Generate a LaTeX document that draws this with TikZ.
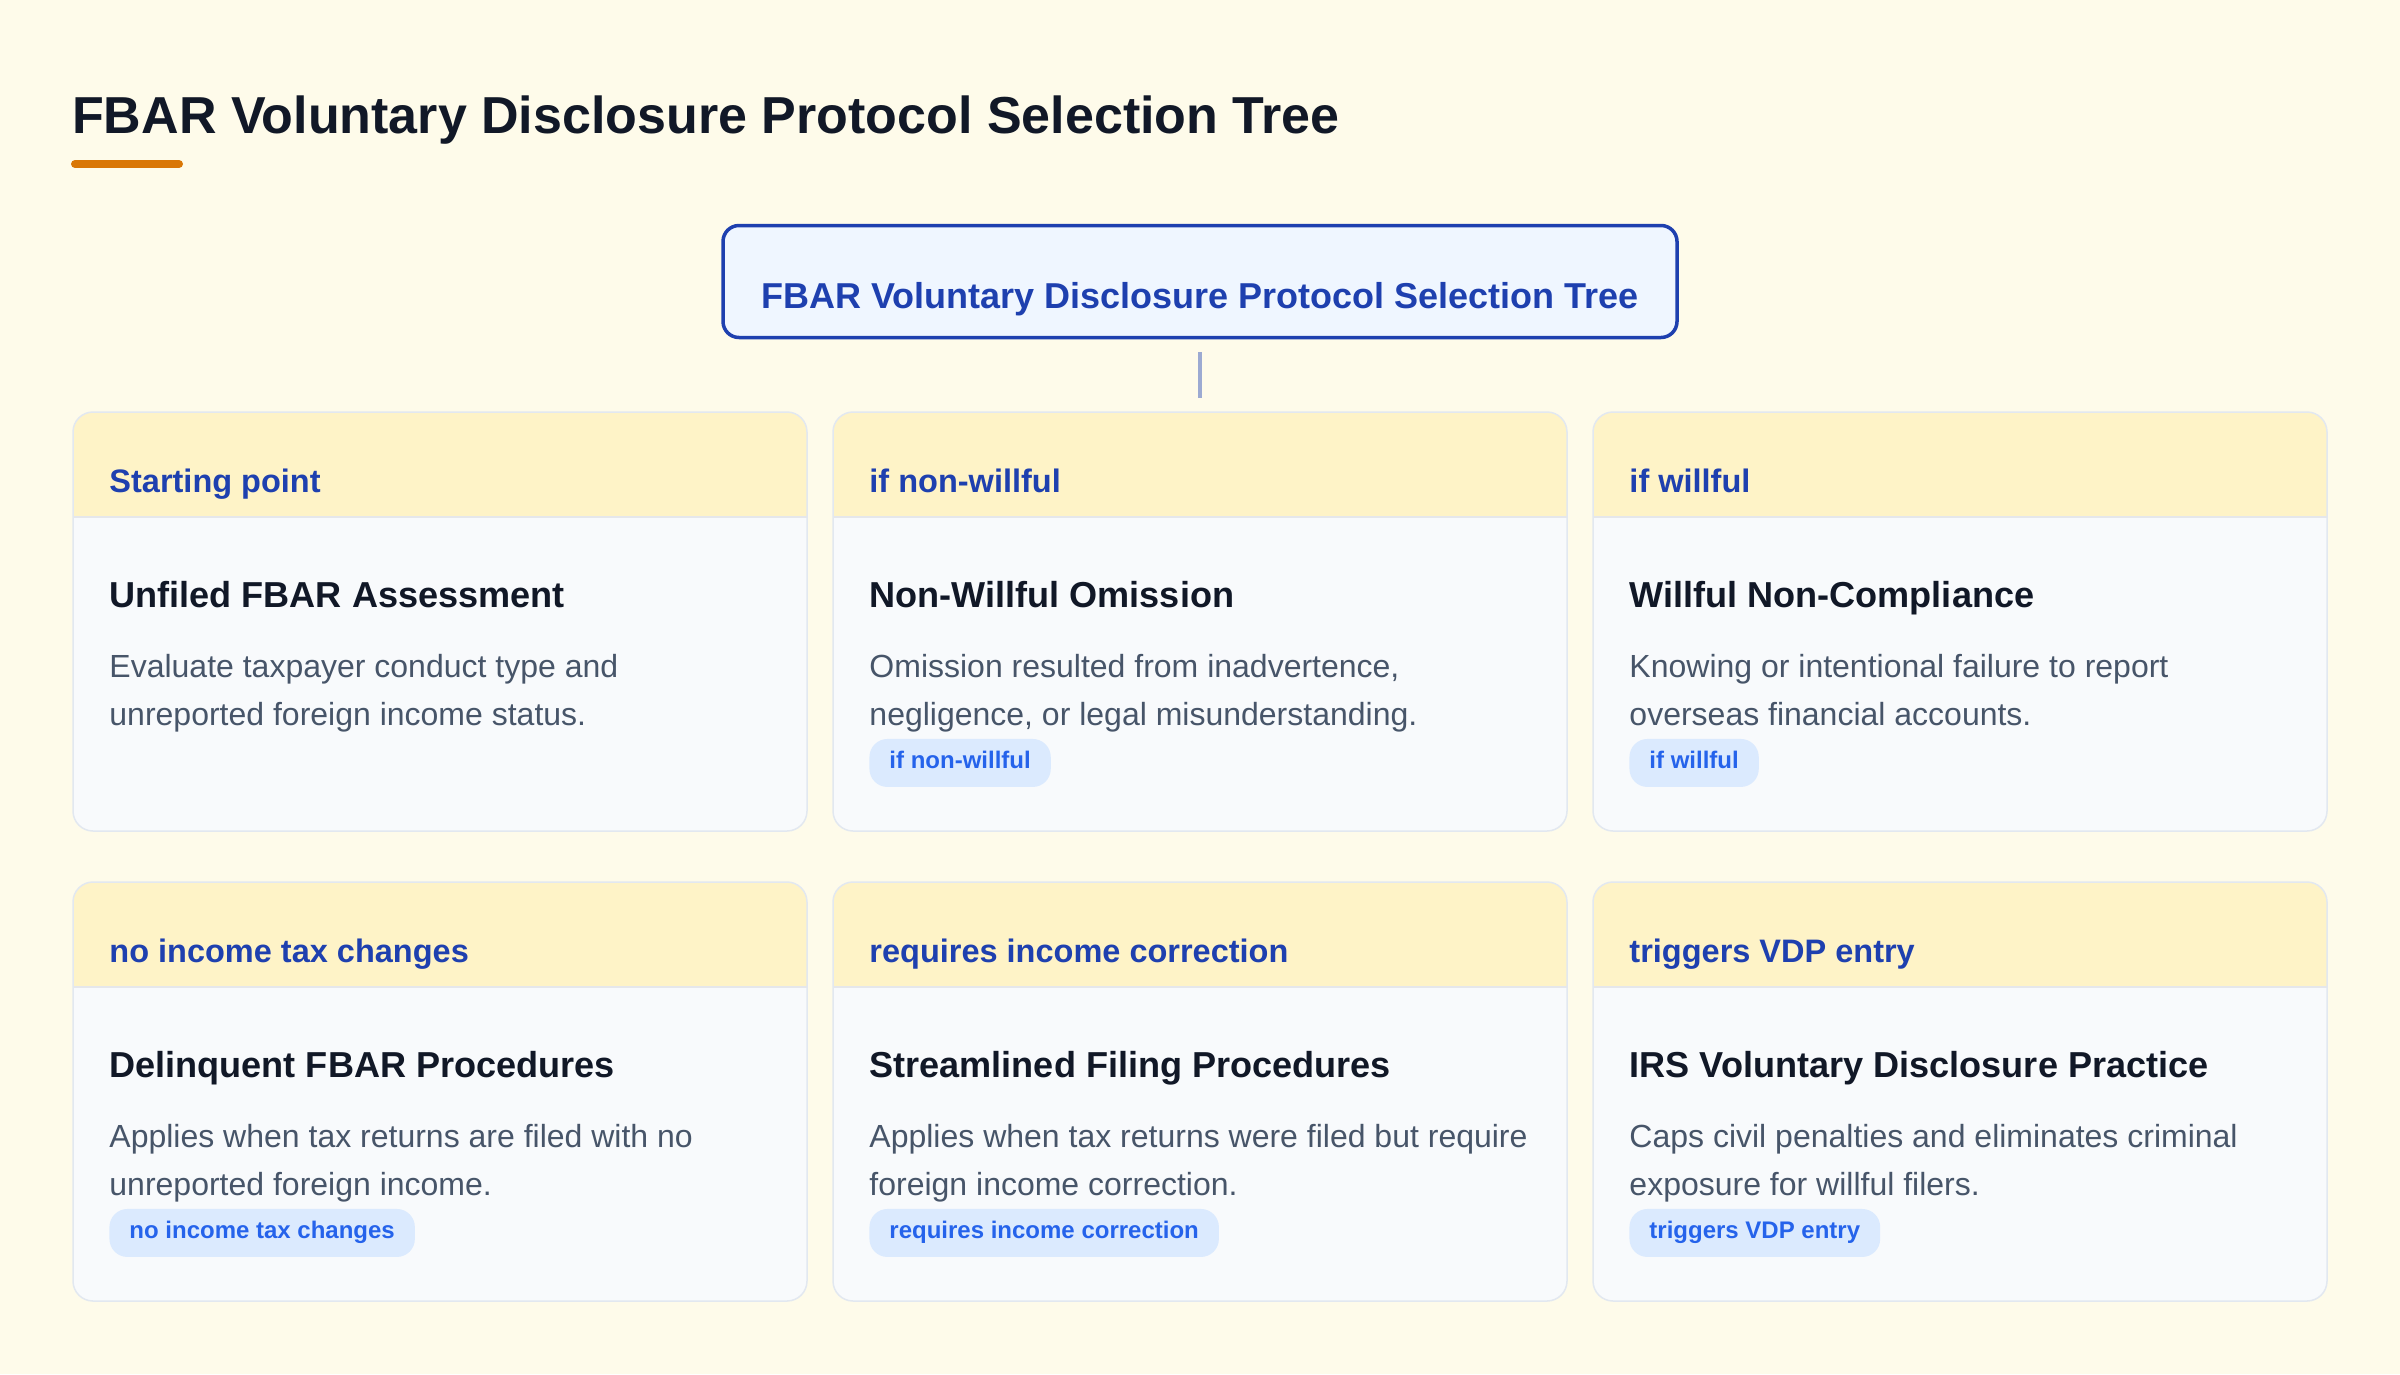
\documentclass[tikz,border=0pt]{standalone}
\usepackage{fontspec}
\setmainfont{Liberation Sans}
\usepackage{xcolor}
\usepackage{tikz}
\usetikzlibrary{positioning}
\definecolor{Paper}{HTML}{FEFBEA}
\definecolor{Ink}{HTML}{111827}
\definecolor{Amber}{HTML}{D97706}
\definecolor{Royal}{HTML}{1E40AF}
\definecolor{RootFill}{HTML}{EFF6FF}
\definecolor{LinkGray}{HTML}{9CAAD2}
\definecolor{CardLine}{HTML}{E2E8F0}
\definecolor{CardFill}{HTML}{F8FAFC}
\definecolor{HeadFill}{HTML}{FEF3C7}
\definecolor{HeadLine}{HTML}{E5E7EB}
\definecolor{Slate}{HTML}{475569}
\definecolor{PillFill}{HTML}{DBEAFE}
\definecolor{PillText}{HTML}{2563EB}
\tikzset{
  pagetitle/.style={text=Ink, font=\fontsize{52}{60}\selectfont\bfseries, inner sep=0pt, anchor=base west},
  rootbox/.style={draw=Royal, fill=RootFill, line width=3.5pt, rounded corners=16pt, minimum width=954pt, minimum height=112pt, text height=62pt, text depth=8pt, inner sep=0pt, text=Royal, font=\fontsize{36}{40}\selectfont\bfseries},
  link/.style={draw=LinkGray, line width=4pt},
  card/.style={draw=CardLine, fill=CardFill, line width=1.5pt, rounded corners=20pt, minimum width=734pt, minimum height=419pt, inner sep=0pt,
    path picture={
      \fill[HeadFill, sharp corners] (path picture bounding box.north west) rectangle ([yshift=-105pt]path picture bounding box.north east);
      \draw[HeadLine, line width=2pt] ([yshift=-105pt]path picture bounding box.north west) -- ([yshift=-105pt]path picture bounding box.north east);
    }},
  headtext/.style={text=Royal, font=\fontsize{32.5}{38}\selectfont\bfseries, inner sep=0pt, anchor=base west},
  cardtitle/.style={text=Ink, font=\fontsize{36.1}{42}\selectfont\bfseries, inner sep=0pt, anchor=base west},
  desc/.style={text=Slate, font=\fontsize{32}{48}\selectfont, align=left, inner sep=0pt, anchor=base west},
  pill/.style={fill=PillFill, text=PillText, rounded corners=18pt, inner xsep=20pt, inner ysep=0pt, minimum height=48pt, text height=17pt, text depth=5pt, font=\fontsize{24}{28}\selectfont\bfseries, anchor=north west},
}
\begin{document}
\begin{tikzpicture}[x=1pt, y=-1pt]
  % Page
  \fill[Paper] (0,0) rectangle (2400,1374);
  \useasboundingbox (0,0) rectangle (2400,1374);

  % Title
  \node[pagetitle] (title) at (72,133) {FBAR Voluntary Disclosure Protocol Selection Tree};
  \draw[Amber, line width=8pt, line cap=round] (75,164) -- (179,164);

  % Root
  \node[rootbox] (root) at (1200,281.5) {FBAR Voluntary Disclosure Protocol Selection Tree};

  % Cards, first row
  \node[card] (start) at (440,621.5) {};
  \node[card] (nonwillful) at (1200,621.5) {};
  \node[card] (willful) at (1960,621.5) {};
  % Cards, second row
  \node[card] (delinquent) at (440,1091.5) {};
  \node[card] (streamlined) at (1200,1091.5) {};
  \node[card] (vdp) at (1960,1091.5) {};

  \draw[link] ([yshift=-13pt]root.south) -- ([yshift=13pt]nonwillful.north);

  % Starting point
  \node[headtext] (starthead) at ([xshift=37pt, yshift=-81pt]start.north west) {Starting point};
  \node[cardtitle] (starttitle) at ([xshift=37pt, yshift=-196.5pt]start.north west) {Unfiled FBAR Assessment};
  \node[desc] (startdesc) at ([xshift=37pt, yshift=-314.5pt]start.north west) {Evaluate taxpayer conduct type and\\unreported foreign income status.};

  % Non-willful
  \node[headtext] (nonwillfulhead) at ([xshift=37pt, yshift=-81pt]nonwillful.north west) {if non-willful};
  \node[cardtitle] (nonwillfultitle) at ([xshift=37pt, yshift=-196.5pt]nonwillful.north west) {Non-Willful Omission};
  \node[desc] (nonwillfuldesc) at ([xshift=37pt, yshift=-314.5pt]nonwillful.north west) {Omission resulted from inadvertence,\\negligence, or legal misunderstanding.};
  \node[pill] (nonwillfulpill) at ([xshift=37pt, yshift=-327.5pt]nonwillful.north west) {if non-willful};

  % Willful
  \node[headtext] (willfulhead) at ([xshift=37pt, yshift=-81pt]willful.north west) {if willful};
  \node[cardtitle] (willfultitle) at ([xshift=37pt, yshift=-196.5pt]willful.north west) {Willful Non-Compliance};
  \node[desc] (willfuldesc) at ([xshift=37pt, yshift=-314.5pt]willful.north west) {Knowing or intentional failure to report\\overseas financial accounts.};
  \node[pill] (willfulpill) at ([xshift=37pt, yshift=-327.5pt]willful.north west) {if willful};

  % Delinquent FBAR
  \node[headtext] (delinquenthead) at ([xshift=37pt, yshift=-81pt]delinquent.north west) {no income tax changes};
  \node[cardtitle] (delinquenttitle) at ([xshift=37pt, yshift=-196.5pt]delinquent.north west) {Delinquent FBAR Procedures};
  \node[desc] (delinquentdesc) at ([xshift=37pt, yshift=-314.5pt]delinquent.north west) {Applies when tax returns are filed with no\\unreported foreign income.};
  \node[pill] (delinquentpill) at ([xshift=37pt, yshift=-327.5pt]delinquent.north west) {no income tax changes};

  % Streamlined
  \node[headtext] (streamlinedhead) at ([xshift=37pt, yshift=-81pt]streamlined.north west) {requires income correction};
  \node[cardtitle] (streamlinedtitle) at ([xshift=37pt, yshift=-196.5pt]streamlined.north west) {Streamlined Filing Procedures};
  \node[desc] (streamlineddesc) at ([xshift=37pt, yshift=-314.5pt]streamlined.north west) {Applies when tax returns were filed but require\\foreign income correction.};
  \node[pill] (streamlinedpill) at ([xshift=37pt, yshift=-327.5pt]streamlined.north west) {requires income correction};

  % VDP
  \node[headtext] (vdphead) at ([xshift=37pt, yshift=-81pt]vdp.north west) {triggers VDP entry};
  \node[cardtitle] (vdptitle) at ([xshift=37pt, yshift=-196.5pt]vdp.north west) {IRS Voluntary Disclosure Practice};
  \node[desc] (vdpdesc) at ([xshift=37pt, yshift=-314.5pt]vdp.north west) {Caps civil penalties and eliminates criminal\\exposure for willful filers.};
  \node[pill] (vdppill) at ([xshift=37pt, yshift=-327.5pt]vdp.north west) {triggers VDP entry};
\end{tikzpicture}
\end{document}
